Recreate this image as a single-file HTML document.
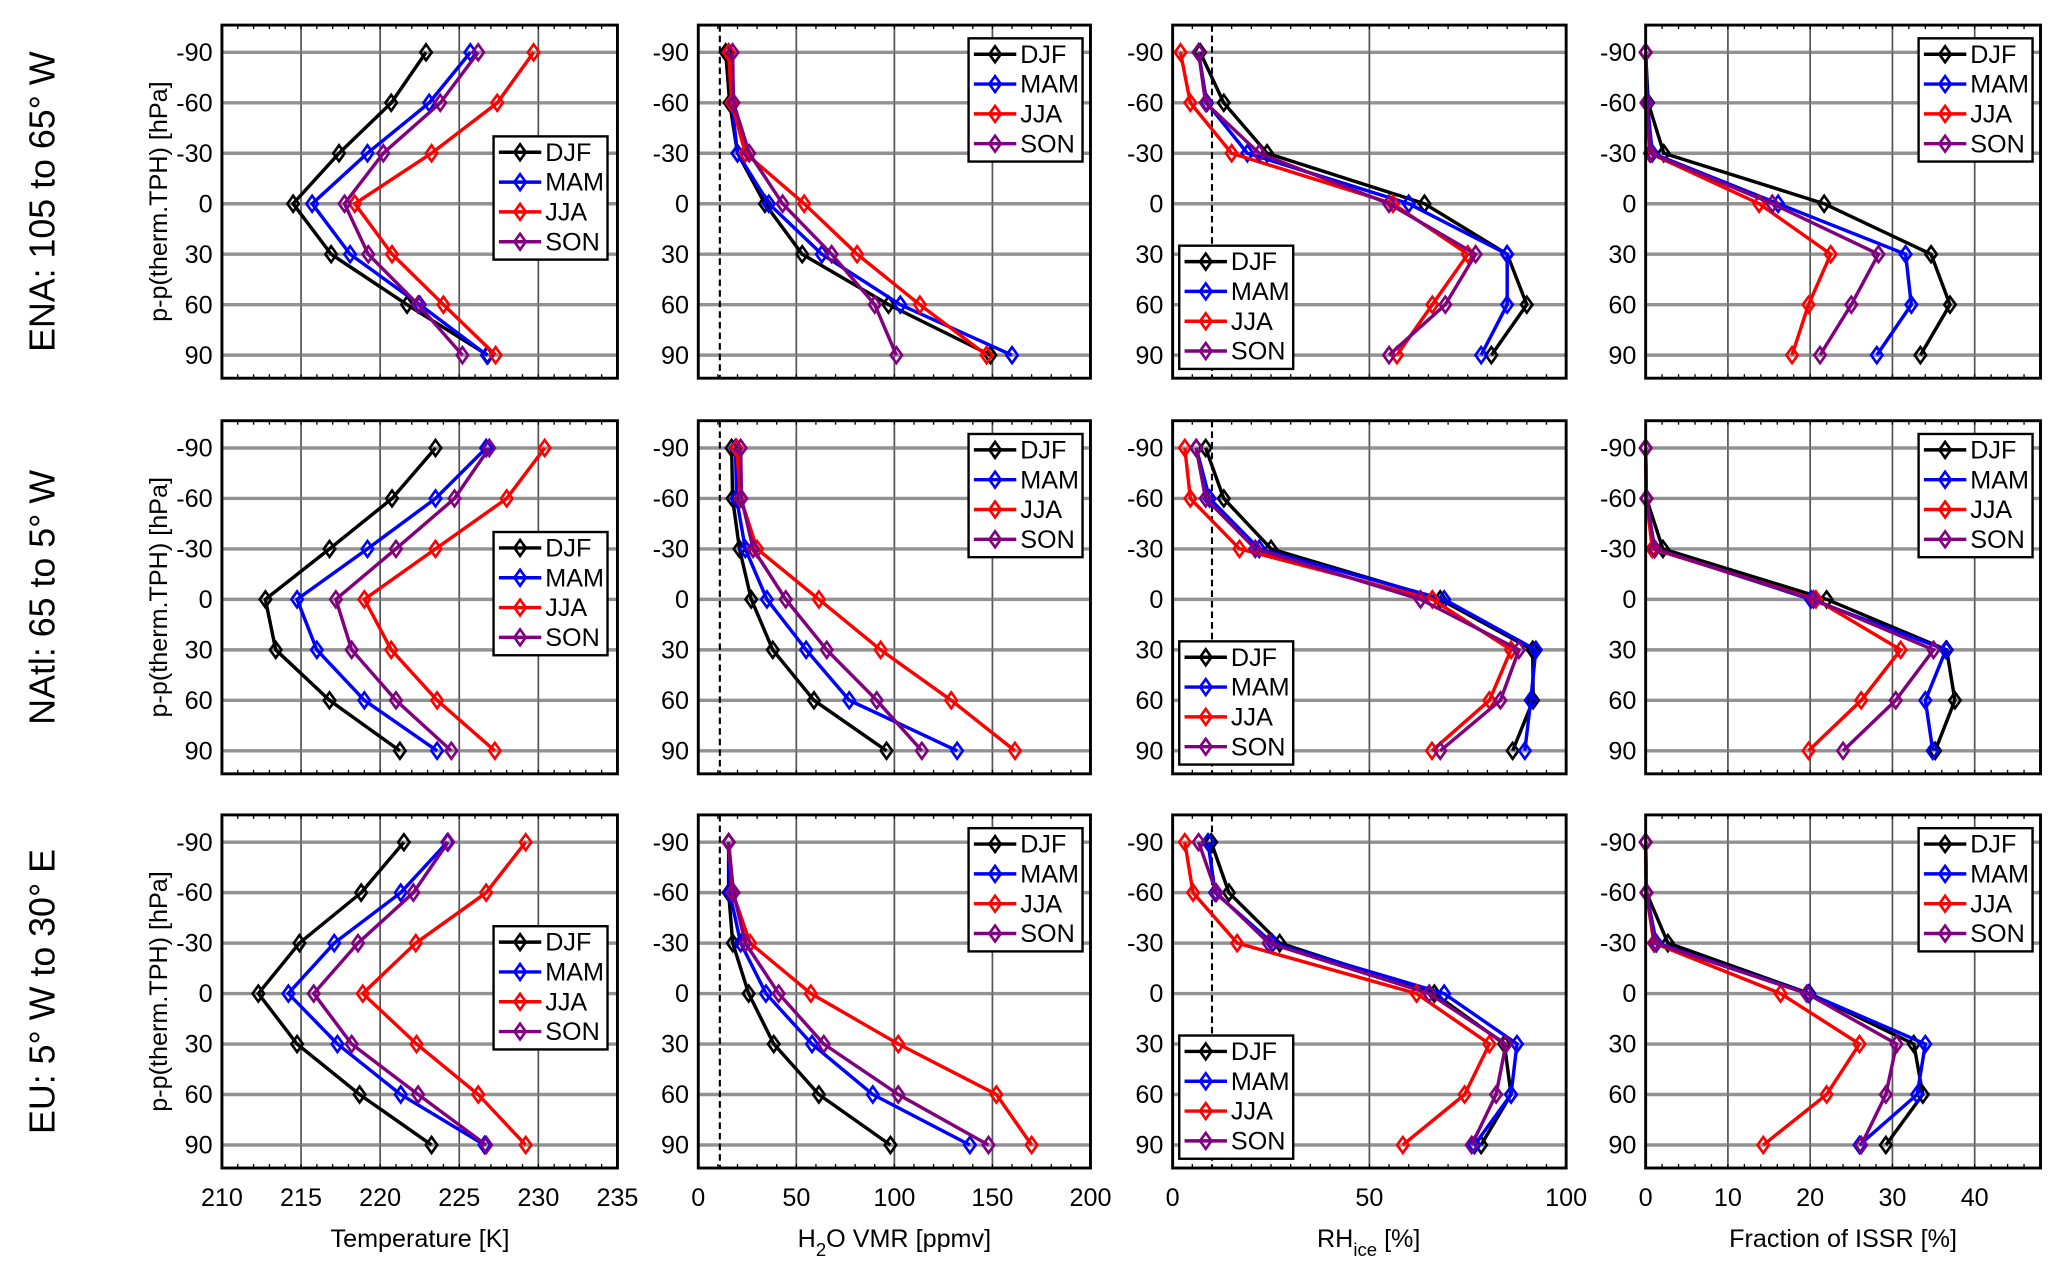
<!DOCTYPE html>
<html><head><meta charset="utf-8"><style>
html,body{margin:0;padding:0;background:#fff;}
svg{display:block;font-family:"Liberation Sans Narrow","Liberation Sans",sans-serif;}
</style></head>
<body>
<svg id="fig" width="2067" height="1284" viewBox="0 0 1560 969" xmlns="http://www.w3.org/2000/svg"></svg>
<script>
const levels = [-90,-60,-30,0,30,60,90];
const seasons = ['DJF','MAM','JJA','SON'];
const seasonColors = ['#000000','#0000ff','#ff0000','#800080'];
const regionLabels = ['ENA: 105 to 65\u00b0 W','NAtl: 65 to 5\u00b0 W','EU: 5\u00b0 W to 30\u00b0 E'];
const yTickLabels = ['-90','-60','-30','0','30','60','90'];

// Temperature [K]  [region][season][level]
const tempENA = [[222.9,220.7,217.4,214.5,216.9,221.7,226.8],[225.7,223.1,219.2,215.7,218.1,222.5,226.75],[229.7,227.4,223.25,218.4,220.75,224,227.3],[226.2,223.8,220.2,217.75,219.25,222.4,225.2]];
const tempNAtl = [[223.5,220.75,216.8,212.75,213.4,216.8,221.25],[226.7,223.5,219.2,214.75,216,219,223.6],[230.4,228,223.5,219,220.7,223.6,227.25],[226.9,224.7,221,217.2,218.2,221,224.5]];
const tempEU = [[221.5,218.8,214.9,212.3,214.75,218.7,223.25],[224.25,221.3,217.1,214.2,217.3,221.3,226.6],[229.2,226.7,222.25,218.9,222.3,226.2,229.2],[224.3,222.1,218.6,215.8,218.2,222.4,226.7]];
// H2O VMR [ppmv]
const h2oENA = [[14,16,20,34,53,97,149],[15.5,17,20,36,63,103,160],[15.5,17,24,54,81,113,147],[17.5,18,26,43,68,90,101]];
const h2oNAtl = [[17,17.5,21,27,38,59,96],[19,19.5,24,35,55,77,132],[19.5,21.6,30,61.5,93,129,161.5],[21.6,22,28,44.6,65.5,91,114]];
const h2oEU = [[15.5,15.5,17.6,25.7,38.5,61.5,98],[15.5,16,21.6,34.5,58,89,138.5],[15.5,17.6,26.4,57.4,102,152,170],[15.5,18,24,41,64,102,148]];
// RHice [%]
const rhENA = [[7,13,24,64,85,90,81],[6.6,8.7,19,60,85,85,78.4],[2,4.5,15,56,75,66,57],[6.6,8.4,22,55,77,69.3,55]];
const rhNAtl = [[8.4,13,25,68,91.5,91.6,86.4],[6,9.4,22,69,92.3,91,89.5],[3.1,4.5,17,66,86,80.5,65.9],[6,8.4,21,63,88,83.3,68]];
const rhEU = [[9.8,14.3,27.2,66.5,84.3,86,78.4],[9,10.8,25.4,69,87.5,86,76.7],[3.1,5.2,16.4,62,80.5,74.2,58.5],[6.6,11.1,24.4,65.2,84.7,82.2,76]];
// Fraction of ISSR [%]
const issrENA = [[0,0.3,2.2,21.7,34.7,37,33.4],[0,0.2,0.8,16.1,31.6,32.3,28.1],[0,0.1,0.5,13.8,22.5,19.8,17.8],[0,0.1,0.6,15.4,28.3,25,21.2]];
const issrNAtl = [[0,0.1,2.1,22,36.6,37.6,35.2],[0,0.1,1.1,20.1,36.5,34,34.9],[0,0.1,0.8,20.7,31,26.2,19.8],[0,0.1,1.1,20.4,35,30.4,24]];
const issrEU = [[0,0.1,2.7,19.9,32.6,33.7,29.2],[0,0.1,1.3,19.8,34,33,26],[0,0.1,1,16.4,26,22,14.3],[0,0.1,1.1,19.6,30.5,29.2,26.2]];

const tempTicks = [210,215,220,225,230,235];
const h2oTicks = [0,50,100,150,200];
const rhTicks = [0,50,100];
const issrTicks = [0,10,20,30,40];

const NS='http://www.w3.org/2000/svg';
const svg=document.getElementById('fig');
function mk(tag,attrs,parent){const e=document.createElementNS(NS,tag);for(const k in attrs)e.setAttribute(k,attrs[k]);(parent||svg).appendChild(e);return e;}

const colX=[[167.5,466],[527,823],[885,1182],[1242,1540]];
const rowY=[[18.9,285.4],[317.5,584],[615,881.5]];
const yMin=-106.2,yMax=103.7;
const cols=[
 {name:'temperature',lim:[210,235],ticks:tempTicks,grid:[215,220,225,230],minor:1,data:[tempENA,tempNAtl,tempEU],legend:'mid',dash:null},
 {name:'h2o',lim:[0,200],ticks:h2oTicks,grid:[50,100,150],minor:10,data:[h2oENA,h2oNAtl,h2oEU],legend:'tr',dash:11},
 {name:'rhice',lim:[0,100],ticks:rhTicks,grid:[50],minor:5,data:[rhENA,rhNAtl,rhEU],legend:'bl',dash:10},
 {name:'issr',lim:[0,48],ticks:issrTicks,grid:[10,20,30,40],minor:2,data:[issrENA,issrNAtl,issrEU],legend:'tr',dash:null}
];

function diamond(g,x,y,color){
  return mk('path',{d:`M${x} ${y-6}L${x+4.3} ${y}L${x} ${y+6}L${x-4.3} ${y}Z`,fill:'none',stroke:color,'stroke-width':2},g);
}

for(let r=0;r<3;r++){
  const [y0,y1]=rowY[r];
  const sy=v=>y0+(v-yMin)/(yMax-yMin)*(y1-y0);
  const rl=mk('text',{x:0,y:0,'font-size':27,'text-anchor':'middle',transform:`translate(41,${(y0+y1)/2}) rotate(-90)`,'font-family':'"Liberation Sans",sans-serif',fill:'#000'});
  rl.textContent=regionLabels[r];
  
  
  const yl=mk('text',{x:0,y:0,'font-size':19,'text-anchor':'middle',transform:`translate(126,${(y0+y1)/2}) rotate(-90)`,'font-family':'"Liberation Sans",sans-serif',fill:'#000'});
  yl.textContent='p-p(therm.TPH) [hPa]';
  
  
  for(let c=0;c<4;c++){
    const C=cols[c];const [x0,x1]=colX[c];
    const sx=v=>x0+(v-C.lim[0])/(C.lim[1]-C.lim[0])*(x1-x0);
    const g=mk('g',{});
    
    
    C.grid.forEach(v=>mk('line',{x1:sx(v),x2:sx(v),y1:y0,y2:y1,stroke:'#555','stroke-width':1.3},g));
    levels.forEach(v=>mk('line',{x1:x0,x2:x1,y1:sy(v),y2:sy(v),stroke:'#777','stroke-width':2.6,'stroke-opacity':0.8},g));
    for(let v=C.lim[0];v<=C.lim[1]+1e-9;v+=C.minor){
      const x=sx(v);
      mk('line',{x1:x,x2:x,y1:y1,y2:y1-3,stroke:'#000','stroke-width':1},g);
      mk('line',{x1:x,x2:x,y1:y0,y2:y0+3,stroke:'#000','stroke-width':1},g);
    }
    if(C.dash!==null) mk('line',{x1:sx(C.dash),x2:sx(C.dash),y1:y0,y2:y1,stroke:'#000','stroke-width':1.6,'stroke-dasharray':'5,3'},g);
    levels.forEach((v,i)=>{const t=mk('text',{x:x0-7,y:sy(v)+6.5,'font-size':19,'text-anchor':'end',fill:'#000'},g);t.textContent=yTickLabels[i];});
    for(let s=0;s<4;s++){
      const vals=C.data[r][s];
      const pts=vals.map((v,i)=>sx(v).toFixed(1)+','+sy(levels[i]).toFixed(1)).join(' ');
      const pl=mk('polyline',{points:pts,fill:'none',stroke:seasonColors[s],'stroke-width':2.6},g);
      
      
      vals.forEach((v,i)=>{const d=diamond(g,sx(v),sy(levels[i]),seasonColors[s]);
        
        });
    }
    mk('rect',{x:x0,y:y0,width:x1-x0,height:y1-y0,fill:'none',stroke:'#000','stroke-width':2.2},g);
    let lx,ly;const lw=86,lh=93;
    if(C.legend==='mid'){lx=x0+205;ly=y0+84;}
    else if(C.legend==='tr'){lx=x1-92;ly=y0+10;}
    else {lx=x0+5;ly=y1-100;}
    const lg=mk('g',{},g);
    
    
    mk('rect',{x:lx,y:ly,width:lw,height:lh,fill:'#fff',stroke:'#000','stroke-width':1.8},lg);
    for(let s=0;s<4;s++){
      const yy=ly+12+s*22.5;
      mk('line',{x1:lx+4,x2:lx+36,y1:yy,y2:yy,stroke:seasonColors[s],'stroke-width':2.6},lg);
      diamond(lg,lx+20,yy,seasonColors[s]);
      const t=mk('text',{x:lx+39,y:yy+6.5,'font-size':19,fill:'#000'},lg);t.textContent=seasons[s];
      
      
    }
    if(r===2){
      C.ticks.forEach(v=>{const t=mk('text',{x:sx(v),y:910,'font-size':19,'text-anchor':'middle',fill:'#000'});t.textContent=String(v);
        
        });
    }
  }
}
function xt(x,html,name){const t=mk('text',{x:x,y:941,'font-size':19,'text-anchor':'middle',fill:'#000'});t.innerHTML=html;
  }
xt(317,'Temperature [K]','x-axis-title-temperature');
xt(675,'H<tspan font-size="14" dy="7">2</tspan><tspan dy="-7">O VMR [ppmv]</tspan>','x-axis-title-h2o');
xt(1033,'RH<tspan font-size="14" dy="7">ice</tspan><tspan dy="-7">  [%]</tspan>','x-axis-title-rhice');
xt(1391,'Fraction of ISSR [%]','x-axis-title-issr');
</script>
</body></html>
